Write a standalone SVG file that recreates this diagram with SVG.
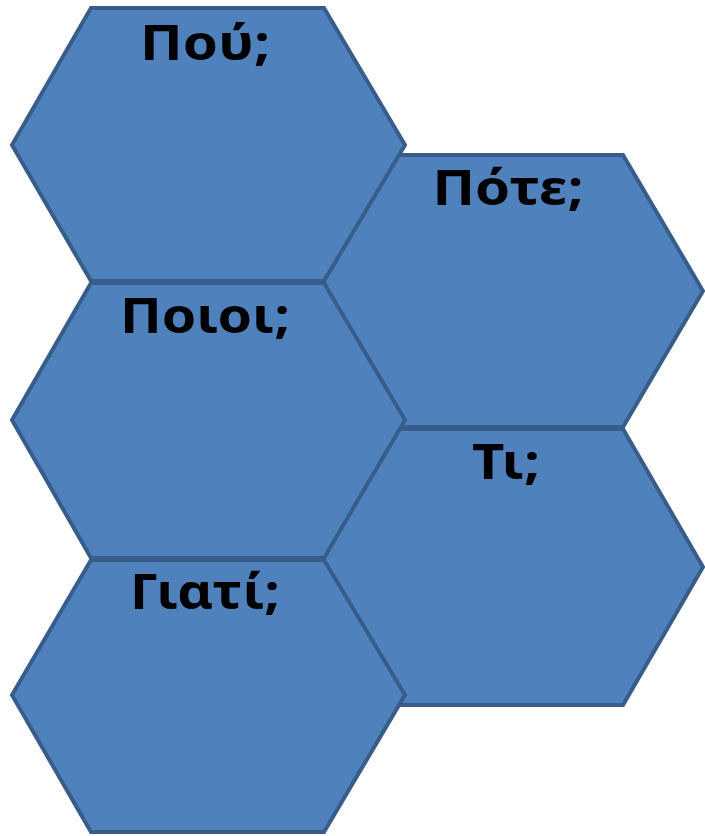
<svg xmlns="http://www.w3.org/2000/svg" width="705" height="836" viewBox="0 0 705 836">
<style>
.hex{fill:#4f81bd;stroke:#385d8a;stroke-width:4;stroke-linejoin:miter}
.lbl{font-family:"Noto Sans","Open Sans","DejaVu Sans",sans-serif;font-weight:bold;font-size:49px;fill:#000;text-anchor:middle}
</style>
<rect width="705" height="836" fill="#fff"/>
<g id="pote">
<polygon class="hex" points="397,155 623,155 703,291 623,427 397,427 318,291"/>
<text class="lbl" x="508" y="205" textLength="151" lengthAdjust="spacingAndGlyphs">Πότε;</text>
</g>
<g id="ti">
<polygon class="hex" points="397,429 623,429 703,567 623,705 397,705 318,567"/>
<text class="lbl" x="506" y="479" textLength="68" lengthAdjust="spacingAndGlyphs">Τι;</text>
</g>
<g id="pou">
<polygon class="hex" points="91,8 324,8 405,145 324,281 91,281 12,145"/>
<text class="lbl" x="205" y="60" textLength="130" lengthAdjust="spacingAndGlyphs">Πού;</text>
</g>
<g id="poioi">
<polygon class="hex" points="91,283 324,283 405,420 324,558 91,558 12,420"/>
<text class="lbl" x="205" y="333" textLength="170" lengthAdjust="spacingAndGlyphs">Ποιοι;</text>
</g>
<g id="giati">
<polygon class="hex" points="91,560 324,560 405,695 324,832 91,832 12,695"/>
<text class="lbl" x="205" y="609" textLength="150" lengthAdjust="spacingAndGlyphs">Γιατί;</text>
</g>
<g id="connectors"></g>
</svg>
